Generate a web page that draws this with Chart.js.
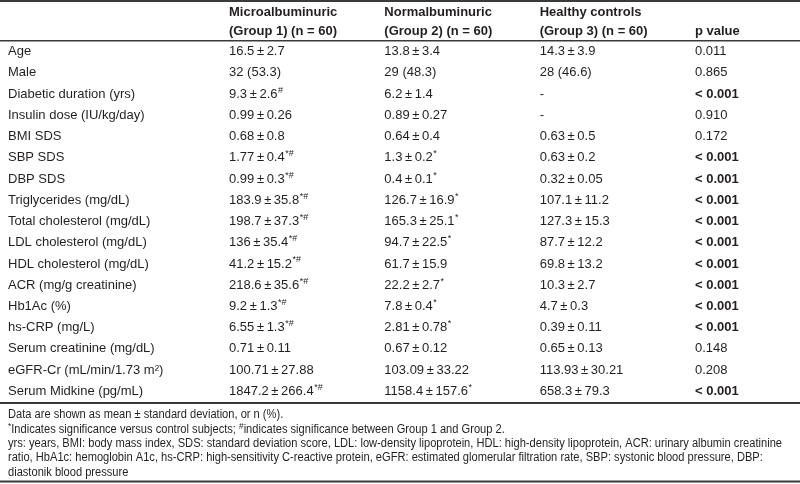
<!DOCTYPE html>
<html>
<head>
<meta charset="utf-8">
<script src="https://cdn.jsdelivr.net/npm/chart.js@4/dist/chart.umd.min.js"></script>
<style>
  html, body { margin: 0; padding: 0; background: #fff; }
</style>
</head>
<body>
<canvas id="table" width="800" height="484"></canvas>
<script>
// table content
const variables = [
  "Age", "Male", "Diabetic duration (yrs)", "Insulin dose (IU/kg/day)", "BMI SDS",
  "SBP SDS", "DBP SDS", "Triglycerides (mg/dL)", "Total cholesterol (mg/dL)",
  "LDL cholesterol (mg/dL)", "HDL cholesterol (mg/dL)", "ACR (mg/g creatinine)",
  "Hb1Ac (%)", "hs-CRP (mg/L)", "Serum creatinine (mg/dL)", "eGFR-Cr (mL/min/1.73 m\u00b2)",
  "Serum Midkine (pg/mL)",
];
const columns = [
  ["Microalbuminuric", "(Group 1) (n = 60)"],
  ["Normalbuminuric", "(Group 2) (n = 60)"],
  ["Healthy controls", "(Group 3) (n = 60)"],
  ["", "p value"],
];
const group1 = [
  "16.5 ± 2.7", "32 (53.3)", "9.3 ± 2.6", "0.99 ± 0.26", "0.68 ± 0.8",
  "1.77 ± 0.4", "0.99 ± 0.3", "183.9 ± 35.8", "198.7 ± 37.3",
  "136 ± 35.4", "41.2 ± 15.2", "218.6 ± 35.6",
  "9.2 ± 1.3", "6.55 ± 1.3", "0.71 ± 0.11", "100.71 ± 27.88",
  "1847.2 ± 266.4",
];
const group1Marks = ["", "", "#", "", "", "*#", "*#", "*#", "*#", "*#", "*#", "*#", "*#", "*#", "", "", "*#"];
const group2 = [
  "13.8 ± 3.4", "29 (48.3)", "6.2 ± 1.4", "0.89 ± 0.27", "0.64 ± 0.4",
  "1.3 ± 0.2", "0.4 ± 0.1", "126.7 ± 16.9", "165.3 ± 25.1",
  "94.7 ± 22.5", "61.7 ± 15.9", "22.2 ± 2.7",
  "7.8 ± 0.4", "2.81 ± 0.78", "0.67 ± 0.12", "103.09 ± 33.22",
  "1158.4 ± 157.6",
];
const group2Marks = ["", "", "", "", "", "*", "*", "*", "*", "*", "", "*", "*", "*", "", "", "*"];
const group3 = [
  "14.3 ± 3.9", "28 (46.6)", "-", "-", "0.63 ± 0.5",
  "0.63 ± 0.2", "0.32 ± 0.05", "107.1 ± 11.2", "127.3 ± 15.3",
  "87.7 ± 12.2", "69.8 ± 13.2", "10.3 ± 2.7",
  "4.7 ± 0.3", "0.39 ± 0.11", "0.65 ± 0.13", "113.93 ± 30.21",
  "658.3 ± 79.3",
];
const pValues = [
  "0.011", "0.865", "< 0.001", "0.910", "0.172",
  "< 0.001", "< 0.001", "< 0.001", "< 0.001",
  "< 0.001", "< 0.001", "< 0.001",
  "< 0.001", "< 0.001", "0.148", "0.208",
  "< 0.001",
];
// footnote lines, [text, superscript?]
const notes = [
  [["Data are shown as mean ± standard deviation, or n (%).", false]],
  [["*", true], ["Indicates significance versus control subjects; ", false], ["#", true], ["indicates significance between Group 1 and Group 2.", false]],
  [["yrs: years, BMI: body mass index, SDS: standard deviation score, LDL: low-density lipoprotein, HDL: high-density lipoprotein, ACR: urinary albumin creatinine", false]],
  [["ratio, HbA1c: hemoglobin A1c, hs-CRP: high-sensitivity C-reactive protein, eGFR: estimated glomerular filtration rate, SBP: systonic blood pressure, DBP:", false]],
  [["diastonik blood pressure", false]],
];

const ink = "#231f20";
const rule = "#3a3a3a";
const bodyFont = "'Liberation Sans', Arial, sans-serif";

function tidy(s) {
  return s.replace(" ± ", "\u2009±\u2009");
}

function drawWithMark(ctx, text, mark, x, y, font) {
  ctx.font = font;
  ctx.fillText(text, x, y);
  if (mark) {
    const w = ctx.measureText(text).width;
    ctx.font = "9px " + bodyFont;
    ctx.fillText(mark, x + w + 0.5, y - 4);
  }
}

const tablePlugin = {
  id: "tableCells",
  afterDraw(chart) {
    const ctx = chart.ctx;
    const xs = chart.scales.x;
    const ys = chart.scales.y;
    const area = chart.chartArea;
    ctx.save();
    ctx.fillStyle = ink;
    ctx.textAlign = "left";
    ctx.textBaseline = "middle";
    const cols = [group1, group2, group3];
    const marks = [group1Marks, group2Marks, null];
    variables.forEach((v, r) => {
      const y = ys.getPixelForValue(r);
      cols.forEach((col, c) => {
        drawWithMark(ctx, tidy(col[r]), marks[c] ? marks[c][r] : "", xs.getPixelForValue(c), y, "13px " + bodyFont);
      });
      const bold = pValues[r].startsWith("<");
      ctx.font = (bold ? "bold " : "") + "13px " + bodyFont;
      ctx.fillText(pValues[r], xs.getPixelForValue(3), y);
    });

    // footnotes, squeezed so the longest line fits
    ctx.font = "12px " + bodyFont;
    const squeeze = Math.min(1, 774 / ctx.measureText(notes[2][0][0]).width);
    notes.forEach((line, i) => {
      let x = 8 / squeeze;
      const y = area.bottom + 13 + i * 14.3;
      ctx.save();
      ctx.scale(squeeze, 1);
      line.forEach(([t, sup]) => {
        ctx.font = (sup ? "9px " : "12px ") + bodyFont;
        ctx.fillText(t, x, sup ? y - 3 : y);
        x += ctx.measureText(t).width;
      });
      ctx.restore();
    });

    // horizontal rules
    ctx.fillStyle = rule;
    ctx.fillRect(0, 0, chart.width, 2);
    ctx.fillRect(0, area.top - 1, chart.width, 1.5);
    ctx.fillRect(0, area.bottom, chart.width, 2);
    ctx.fillRect(0, chart.height - 3.5, chart.width, 2);
    ctx.restore();
  },
};

new Chart(document.getElementById("table"), {
  type: "scatter",
  data: { datasets: [] },
  plugins: [tablePlugin],
  options: {
    responsive: false,
    animation: false,
    devicePixelRatio: 1,
    layout: { padding: { left: 8, right: 105, top: 0, bottom: 82 } },
    plugins: { legend: { display: false }, tooltip: { enabled: false } },
    scales: {
      x: {
        type: "category",
        position: "top",
        labels: columns,
        offset: false,
        grid: { display: false, drawTicks: false },
        border: { display: false },
        afterFit: (scale) => { scale.height = 41; },
        ticks: {
          align: "start",
          autoSkip: false,
          maxRotation: 0,
          padding: 0,
          color: ink,
          font: { family: bodyFont, size: 13, weight: "bold", lineHeight: 19 / 13 },
        },
      },
      y: {
        type: "category",
        labels: variables,
        offset: true,
        grid: { display: false, drawTicks: false },
        border: { display: false },
        afterFit: (scale) => { scale.width = 221; },
        ticks: {
          crossAlign: "far",
          autoSkip: false,
          padding: 0,
          color: ink,
          font: { family: bodyFont, size: 13 },
        },
      },
    },
  },
});
</script>
</body>
</html>
